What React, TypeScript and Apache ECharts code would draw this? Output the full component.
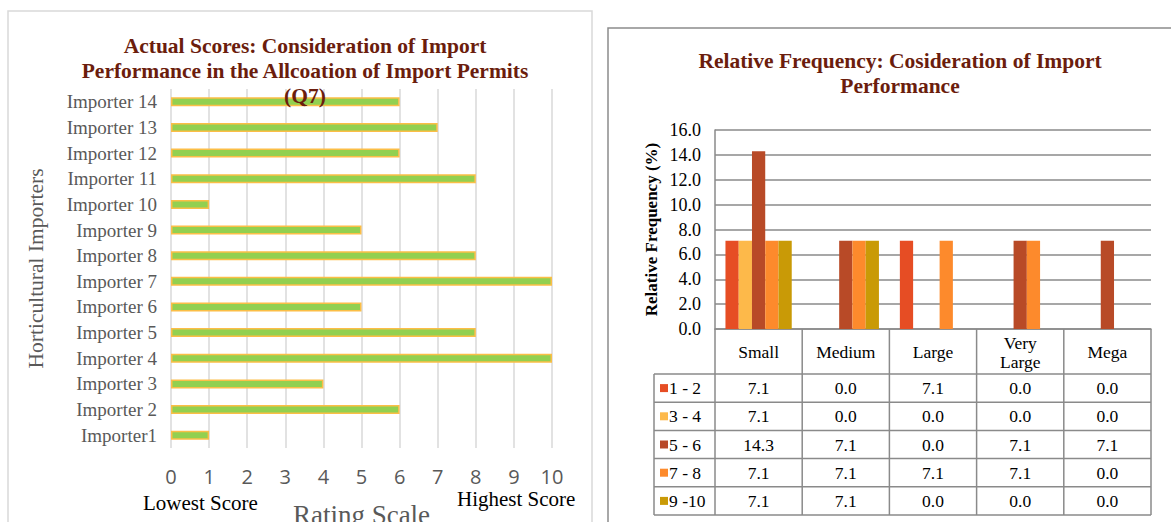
import React, { useEffect, useRef } from "react";
import * as echarts from "echarts";

const importers = [
  "Importer1", "Importer 2", "Importer 3", "Importer 4", "Importer 5", "Importer 6", "Importer 7",
  "Importer 8", "Importer 9", "Importer 10", "Importer 11", "Importer 12", "Importer 13", "Importer 14",
];
const scores = [1, 6, 4, 10, 8, 5, 10, 8, 5, 1, 8, 6, 7, 6];

const sizes = ["Small", "Medium", "Large", "Very\nLarge", "Mega"];
const ranges = ["1 - 2", "3 - 4", "5 - 6", "7 - 8", "9 -10"];
const freq12 = [7.1, 0.0, 7.1, 0.0, 0.0];
const freq34 = [7.1, 0.0, 0.0, 0.0, 0.0];
const freq56 = [14.3, 7.1, 0.0, 7.1, 7.1];
const freq78 = [7.1, 7.1, 7.1, 7.1, 0.0];
const freq910 = [7.1, 7.1, 0.0, 0.0, 0.0];
const freqSeries = [freq12, freq34, freq56, freq78, freq910];
const rangeColors = ["#E64D24", "#FDB94A", "#B84A27", "#FD8A2C", "#C99A06"];

const SERIF = "'Liberation Serif', 'DejaVu Serif', serif";
const TITLE_COLOR = "#6B1D0D";

export default function App() {
  const ref = useRef<HTMLDivElement>(null);

  useEffect(() => {
    document.body.style.margin = "0";
    const el = ref.current!;
    const chart = echarts.init(el, null, { renderer: "svg" });

    // right grid geometry
    const rLeft = 715;
    const rRight = 1151;
    const rTop = 130;
    const rBottom = 329;
    const colW = (rRight - rLeft) / sizes.length;
    const headerBottom = 374;
    const rowH = 28.2;
    const legLeft = 654;
    const lineColor = "#8A8A8A";

    const graphics: any[] = [];
    // frames
    graphics.push({
      type: "rect",
      shape: { x: 8, y: 11, width: 584, height: 540 },
      style: { fill: "none", stroke: "#D9D9D9", lineWidth: 1.5 },
      silent: true,
    });
    graphics.push({
      type: "rect",
      shape: { x: 608, y: 28, width: 620, height: 540 },
      style: { fill: "none", stroke: "#8C8C8C", lineWidth: 1.5 },
      silent: true,
    });
    // left chart annotations
    graphics.push({
      type: "text",
      x: 143,
      y: 503,
      style: { text: "Lowest Score", font: `21px ${SERIF}`, fill: "#000", verticalAlign: "middle" },
    });
    graphics.push({
      type: "text",
      x: 457,
      y: 499,
      style: { text: "Highest Score", font: `21px ${SERIF}`, fill: "#000", verticalAlign: "middle" },
    });

    // table lines
    const tableBottom = headerBottom + rowH * ranges.length;
    for (let i = 0; i <= sizes.length; i++) {
      const x = rLeft + colW * i;
      graphics.push({
        type: "line",
        shape: { x1: x, y1: rBottom, x2: x, y2: tableBottom },
        style: { stroke: lineColor, lineWidth: 1.5 },
      });
    }
    graphics.push({
      type: "line",
      shape: { x1: legLeft, y1: headerBottom, x2: legLeft, y2: tableBottom },
      style: { stroke: lineColor, lineWidth: 1.5 },
    });
    for (let r = 0; r <= ranges.length; r++) {
      const y = headerBottom + rowH * r;
      graphics.push({
        type: "line",
        shape: { x1: legLeft, y1: y, x2: rRight, y2: y },
        style: { stroke: lineColor, lineWidth: 1.5 },
      });
    }
    ranges.forEach((name, r) => {
      const cy = headerBottom + rowH * r + rowH / 2;
      graphics.push({
        type: "rect",
        shape: { x: 660, y: cy - 4, width: 8, height: 8 },
        style: { fill: rangeColors[r] },
      });
      graphics.push({
        type: "text",
        x: 669,
        y: cy,
        style: { text: name, font: `17.5px ${SERIF}`, fill: "#000", verticalAlign: "middle" },
      });
      freqSeries[r].forEach((v, c) => {
        graphics.push({
          type: "text",
          x: rLeft + colW * c + colW / 2,
          y: cy,
          style: {
            text: v.toFixed(1),
            font: `17.5px ${SERIF}`,
            fill: "#000",
            align: "center",
            verticalAlign: "middle",
          },
        });
      });
    });

    const option: any = {
      animation: false,
      backgroundColor: "#fff",
      title: [
        {
          text: "Actual Scores: Consideration of Import\nPerformance in the Allcoation of Import Permits\n(Q7)",
          left: 300,
          top: 28,
          textAlign: "center",
          textStyle: {
            fontFamily: SERIF,
            fontWeight: "bold",
            fontSize: 21.5,
            lineHeight: 25,
            color: TITLE_COLOR,
          },
          z: 10,
        },
        {
          text: "Relative Frequency: Cosideration of Import\nPerformance",
          left: 895,
          top: 43,
          textAlign: "center",
          textStyle: {
            fontFamily: SERIF,
            fontWeight: "bold",
            fontSize: 21.5,
            lineHeight: 25,
            color: TITLE_COLOR,
          },
        },
      ],
      grid: [
        { left: 171, width: 381, top: 89, height: 359, outerBoundsMode: "none" },
        {
          left: rLeft,
          width: rRight - rLeft,
          top: rTop,
          height: rBottom - rTop,
          outerBoundsMode: "none",
        },
      ],
      xAxis: [
        {
          type: "value",
          gridIndex: 0,
          min: 0,
          max: 10,
          interval: 1,
          axisLine: { show: false },
          axisTick: { show: false },
          splitLine: { show: true, lineStyle: { color: "#D9D9D9", width: 1.5 } },
          axisLabel: {
            fontFamily: "'Open Sans', 'Liberation Sans', sans-serif",
            fontSize: 20,
            lineHeight: 19,
            color: "#595959",
            margin: 19,
          },
          name: "Rating Scale",
          nameLocation: "middle",
          nameGap: 53,
          nameTextStyle: { fontFamily: SERIF, fontSize: 27, color: "#595959" },
        },
        {
          type: "category",
          gridIndex: 1,
          data: sizes,
          axisLine: { show: true, lineStyle: { color: lineColor, width: 1.5 } },
          axisTick: { show: false },
          axisLabel: {
            fontFamily: SERIF,
            fontSize: 17.5,
            color: "#000",
            margin: 23,
            verticalAlign: "middle",
            lineHeight: 19,
            interval: 0,
          },
        },
      ],
      yAxis: [
        {
          type: "category",
          gridIndex: 0,
          data: importers,
          axisLine: { show: false },
          axisTick: { show: false },
          axisLabel: { fontFamily: SERIF, fontSize: 19, color: "#595959", margin: 14 },
          name: "Horticultural Importers",
          nameLocation: "middle",
          nameRotate: 90,
          nameGap: 124,
          nameTextStyle: { fontFamily: SERIF, fontSize: 21.5, color: "#595959" },
        },
        {
          type: "value",
          gridIndex: 1,
          min: 0,
          max: 16,
          interval: 2,
          axisLine: { show: true, lineStyle: { color: lineColor, width: 1.5 } },
          axisTick: { show: false },
          splitLine: { show: true, lineStyle: { color: lineColor, width: 1.5 } },
          axisLabel: {
            fontFamily: SERIF,
            fontSize: 18,
            color: "#000",
            margin: 14,
            formatter: (v: number) => v.toFixed(1),
          },
          name: "Relative Frequency (%)",
          nameLocation: "middle",
          nameRotate: 90,
          nameGap: 55,
          nameTextStyle: { fontFamily: SERIF, fontSize: 17, fontWeight: "bold", color: "#000" },
        },
      ],
      series: [
        {
          type: "bar",
          xAxisIndex: 0,
          yAxisIndex: 0,
          data: scores,
          barWidth: 9,
          itemStyle: { color: "#92D050", borderColor: "#FBBE47", borderWidth: 1.5 },
        },
        ...ranges.map((name, i) => ({
          type: "bar",
          name,
          xAxisIndex: 1,
          yAxisIndex: 1,
          data: freqSeries[i],
          barGap: "0%",
          barCategoryGap: "24%",
          itemStyle: { color: rangeColors[i] },
        })),
      ],
      graphic: graphics,
    };

    chart.setOption(option);
    return () => chart.dispose();
  }, []);

  return <div ref={ref} style={{ width: 1171, height: 522 }} />;
}
